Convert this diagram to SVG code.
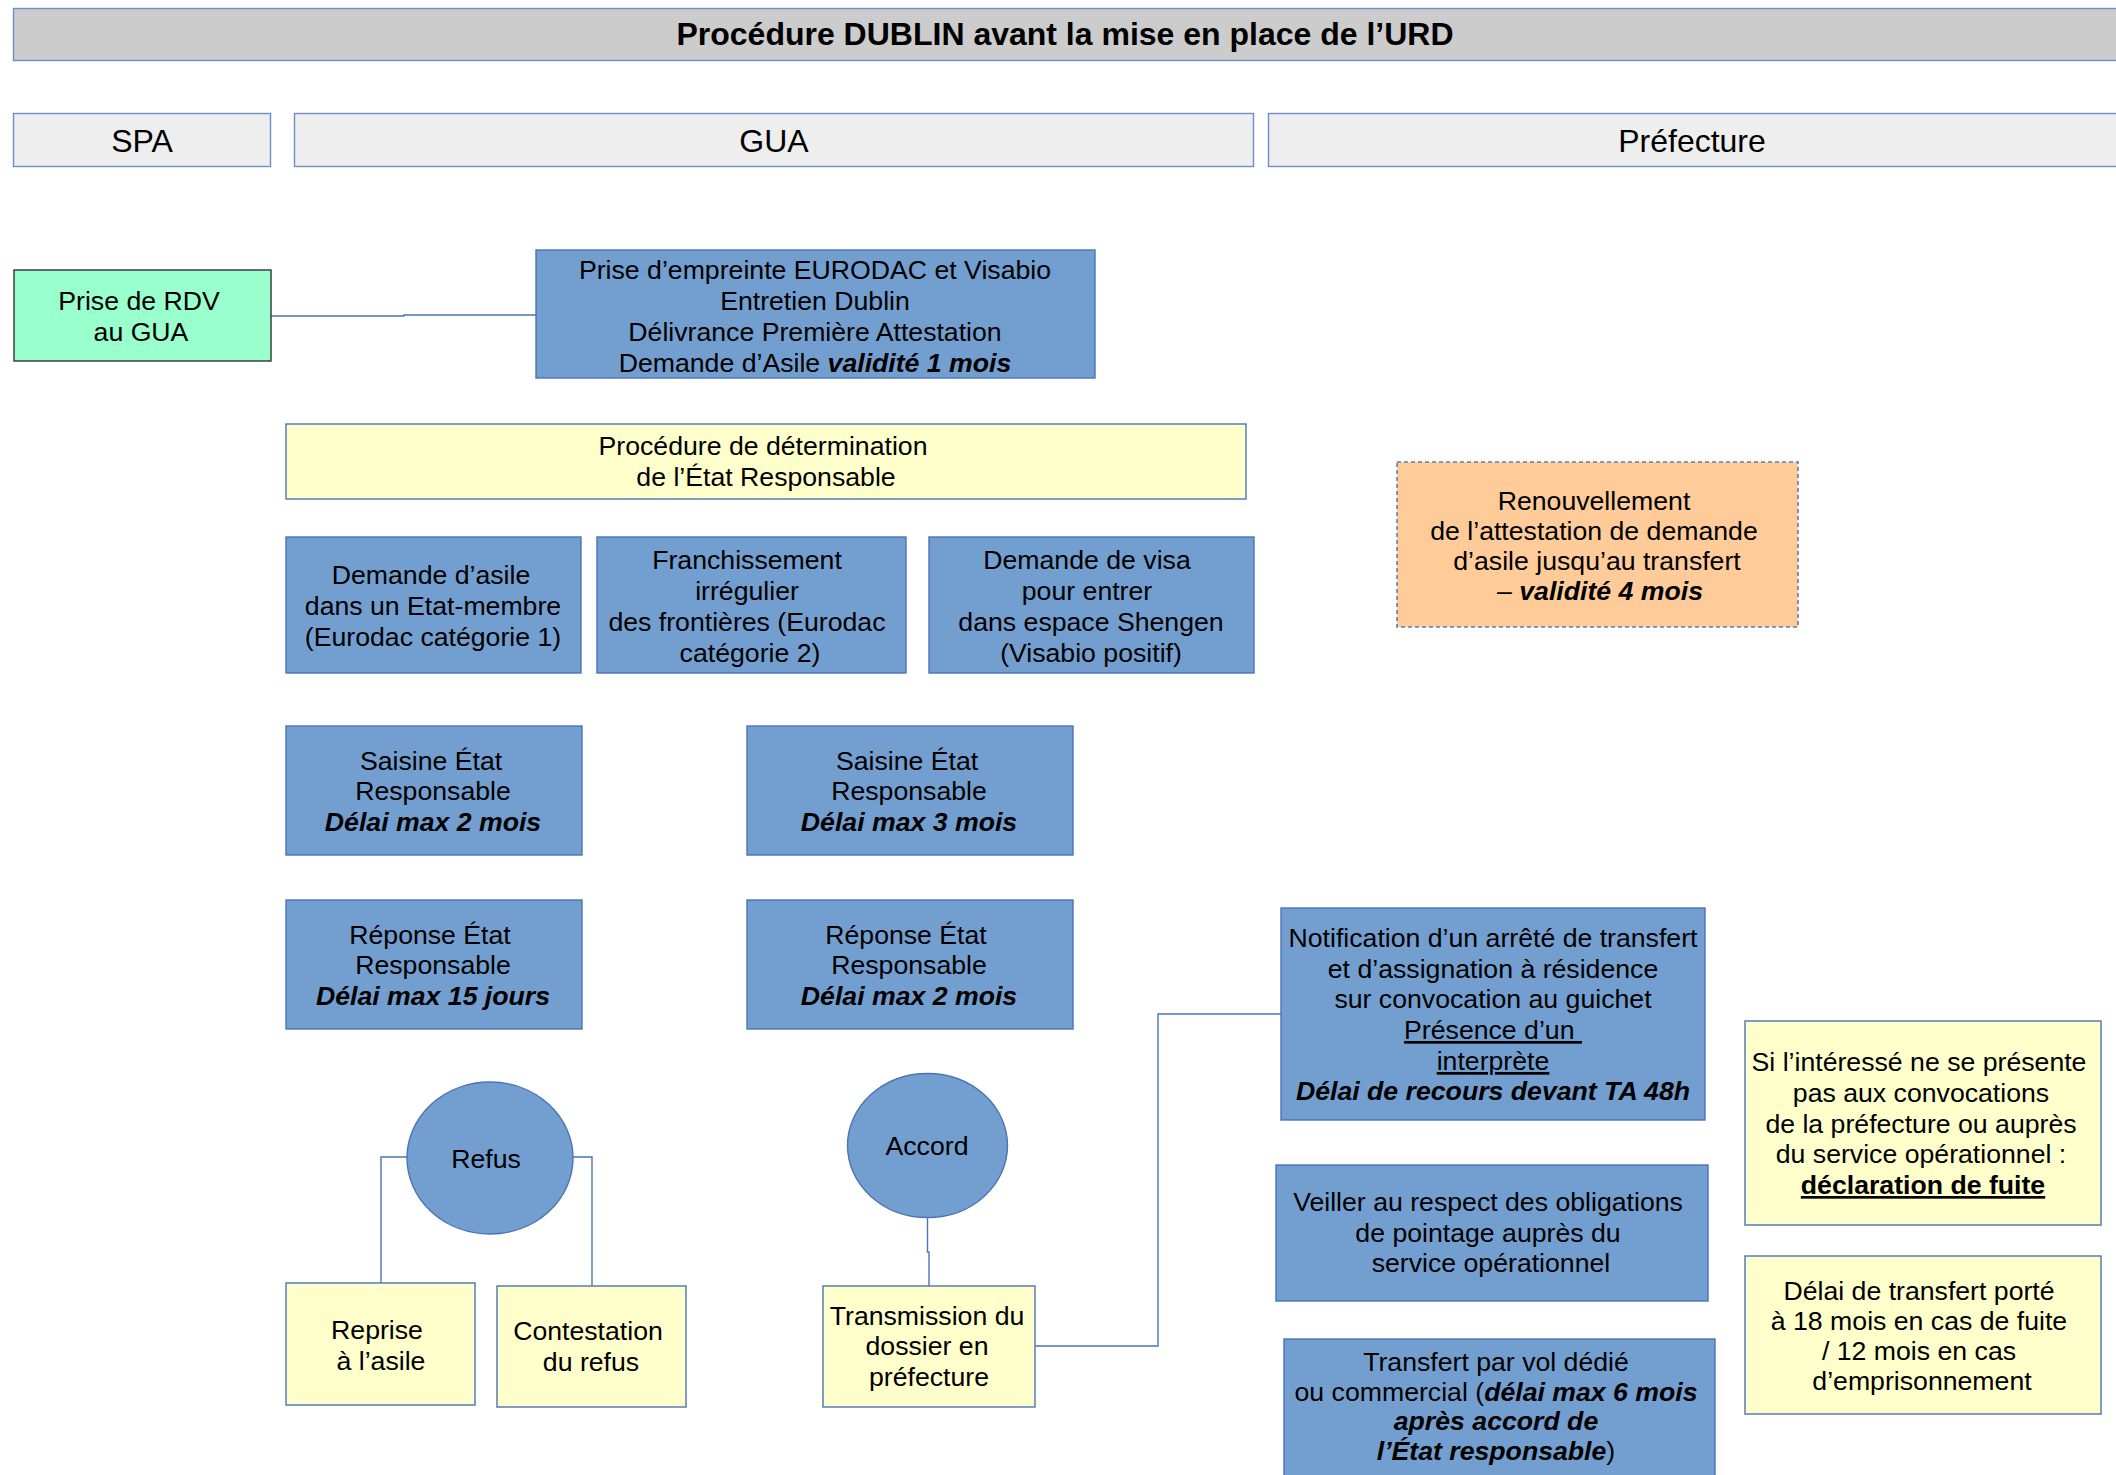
<svg xmlns="http://www.w3.org/2000/svg" width="2116" height="1475" viewBox="0 0 2116 1475">
<style>
text{font-family:"Liberation Sans",Arial,sans-serif;font-size:26.67px;fill:#000;text-anchor:middle}
.hdr{font-size:32px}
.bi{font-weight:bold;font-style:italic}
.b{font-weight:bold}
.u{text-decoration:underline}
.blue{fill:#729fcf;stroke:#4a74b5;stroke-width:1.4}
.yel{fill:#ffffcc;stroke:#4a74b5;stroke-width:1.4}
.lane{fill:#eeeeee;stroke:#6d8fc8;stroke-width:1.4}
.conn{fill:none;stroke:#4a74b5;stroke-width:1.4}
</style>
<g id="title">
<rect x="13.5" y="8.5" width="2110" height="52" fill="#cccccc" stroke="#6d8fc8" stroke-width="1.4"/>
<text x="1065" y="45" class="hdr b">Procédure DUBLIN avant la mise en place de l’URD</text>
</g>
<g id="lane-spa"><rect class="lane" x="13.5" y="113.5" width="257" height="53"/><text class="hdr" x="142" y="152">SPA</text></g>
<g id="lane-gua"><rect class="lane" x="294.5" y="113.5" width="959" height="53"/><text class="hdr" x="774" y="152">GUA</text></g>
<g id="lane-pref"><rect class="lane" x="1268.5" y="113.5" width="860" height="53"/><text class="hdr" x="1692" y="152">Préfecture</text></g>

<g id="connectors">
<polyline class="conn" points="271,316 404,316 404,315 536,315"/>
<polyline class="conn" points="407,1157 381,1157 381,1283"/>
<polyline class="conn" points="573,1157 592,1157 592,1286"/>
<polyline class="conn" points="927.5,1218 927.5,1252 929,1252 929,1286"/>
<polyline class="conn" points="1035,1346 1158,1346 1158,1014 1281,1014"/>
</g>

<g id="rdv">
<rect x="14" y="270" width="257" height="91" fill="#99ffcc" stroke="#333333" stroke-width="1.4"/>
<text x="139" y="310">Prise de RDV</text>
<text x="141" y="341">au GUA</text>
</g>
<g id="empreinte">
<rect class="blue" x="536" y="250" width="559" height="128"/>
<text x="815" y="279">Prise d’empreinte EURODAC et Visabio</text>
<text x="815" y="310">Entretien Dublin</text>
<text x="815" y="341">Délivrance Première Attestation</text>
<text x="815" y="372">Demande d’Asile <tspan class="bi">validité 1 mois</tspan></text>
</g>
<g id="determination">
<rect class="yel" x="286" y="424" width="960" height="75"/>
<text x="763" y="455">Procédure de détermination</text>
<text x="766" y="486">de l’État Responsable</text>
</g>
<g id="cat1">
<rect class="blue" x="286" y="537" width="295" height="136"/>
<text x="431" y="584">Demande d’asile</text>
<text x="433" y="615">dans un Etat-membre</text>
<text x="433" y="646">(Eurodac catégorie 1)</text>
</g>
<g id="cat2">
<rect class="blue" x="597" y="537" width="309" height="136"/>
<text x="747" y="569">Franchissement</text>
<text x="747" y="600">irrégulier</text>
<text x="747" y="631">des frontières (Eurodac</text>
<text x="750" y="662">catégorie 2)</text>
</g>
<g id="visa">
<rect class="blue" x="929" y="537" width="325" height="136"/>
<text x="1087" y="569">Demande de visa</text>
<text x="1087" y="600">pour entrer</text>
<text x="1091" y="631">dans espace Shengen</text>
<text x="1091" y="662">(Visabio positif)</text>
</g>
<g id="renouvellement">
<rect x="1397" y="462" width="401" height="165" fill="#ffcc99" stroke="#5a7fb5" stroke-width="1.6" stroke-dasharray="4,3"/>
<text x="1594" y="510">Renouvellement</text>
<text x="1594" y="540">de l’attestation de demande</text>
<text x="1597" y="570">d’asile jusqu’au transfert</text>
<text x="1600" y="600">– <tspan class="bi">validité 4 mois</tspan></text>
</g>
<g id="saisine1">
<rect class="blue" x="286" y="726" width="296" height="129"/>
<text x="431" y="770">Saisine État</text>
<text x="433" y="800">Responsable</text>
<text x="433" y="831" class="bi">Délai max 2 mois</text>
</g>
<g id="saisine2">
<rect class="blue" x="747" y="726" width="326" height="129"/>
<text x="907" y="770">Saisine État</text>
<text x="909" y="800">Responsable</text>
<text x="909" y="831" class="bi">Délai max 3 mois</text>
</g>
<g id="reponse1">
<rect class="blue" x="286" y="900" width="296" height="129"/>
<text x="430" y="944">Réponse État</text>
<text x="433" y="974">Responsable</text>
<text x="433" y="1005" class="bi">Délai max 15 jours</text>
</g>
<g id="reponse2">
<rect class="blue" x="747" y="900" width="326" height="129"/>
<text x="906" y="944">Réponse État</text>
<text x="909" y="974">Responsable</text>
<text x="909" y="1005" class="bi">Délai max 2 mois</text>
</g>
<g id="refus">
<ellipse class="blue" cx="490" cy="1158" rx="83" ry="76"/>
<text x="486" y="1168">Refus</text>
</g>
<g id="accord">
<ellipse class="blue" cx="927.5" cy="1145.5" rx="80" ry="72"/>
<text x="927" y="1155">Accord</text>
</g>
<g id="reprise">
<rect class="yel" x="286" y="1283" width="189" height="122"/>
<text x="377" y="1339">Reprise</text>
<text x="381" y="1370">à l’asile</text>
</g>
<g id="contestation">
<rect class="yel" x="497" y="1286" width="189" height="121"/>
<text x="588" y="1340">Contestation</text>
<text x="591" y="1371">du refus</text>
</g>
<g id="transmission">
<rect class="yel" x="823" y="1286" width="212" height="121"/>
<text x="927" y="1325">Transmission du</text>
<text x="927" y="1355">dossier en</text>
<text x="929" y="1386">préfecture</text>
</g>
<g id="notification">
<rect class="blue" x="1281" y="908" width="424" height="212"/>
<text x="1493" y="947">Notification d’un arrêté de transfert</text>
<text x="1493" y="978">et d’assignation à résidence</text>
<text x="1493" y="1008">sur convocation au guichet</text>
<text x="1493" y="1039" class="u" xml:space="preserve">Présence d’un </text>
<text x="1493" y="1070" class="u">interprète</text>
<text x="1493" y="1100" class="bi">Délai de recours devant TA 48h</text>
</g>
<g id="veiller">
<rect class="blue" x="1276" y="1165" width="432" height="136"/>
<text x="1488" y="1211">Veiller au respect des obligations</text>
<text x="1488" y="1242">de pointage auprès du</text>
<text x="1491" y="1272">service opérationnel</text>
</g>
<g id="transfert">
<rect class="blue" x="1284" y="1339" width="431" height="145"/>
<text x="1496" y="1371">Transfert par vol dédié</text>
<text x="1496" y="1401">ou commercial (<tspan class="bi">délai max 6 mois</tspan></text>
<text x="1496" y="1430" class="bi">après accord de</text>
<text x="1496" y="1460"><tspan class="bi">l’État responsable</tspan>)</text>
</g>
<g id="fuite">
<rect class="yel" x="1745" y="1021" width="356" height="204"/>
<text x="1919" y="1071">Si l’intéressé ne se présente</text>
<text x="1921" y="1102">pas aux convocations</text>
<text x="1921" y="1133">de la préfecture ou auprès</text>
<text x="1921" y="1163">du service opérationnel :</text>
<text x="1923" y="1194" class="b u">déclaration de fuite</text>
</g>
<g id="delai">
<rect class="yel" x="1745" y="1256" width="356" height="158"/>
<text x="1919" y="1300">Délai de transfert porté</text>
<text x="1919" y="1330">à 18 mois en cas de fuite</text>
<text x="1919" y="1360">/ 12 mois en cas</text>
<text x="1922" y="1390">d’emprisonnement</text>
</g>
</svg>
